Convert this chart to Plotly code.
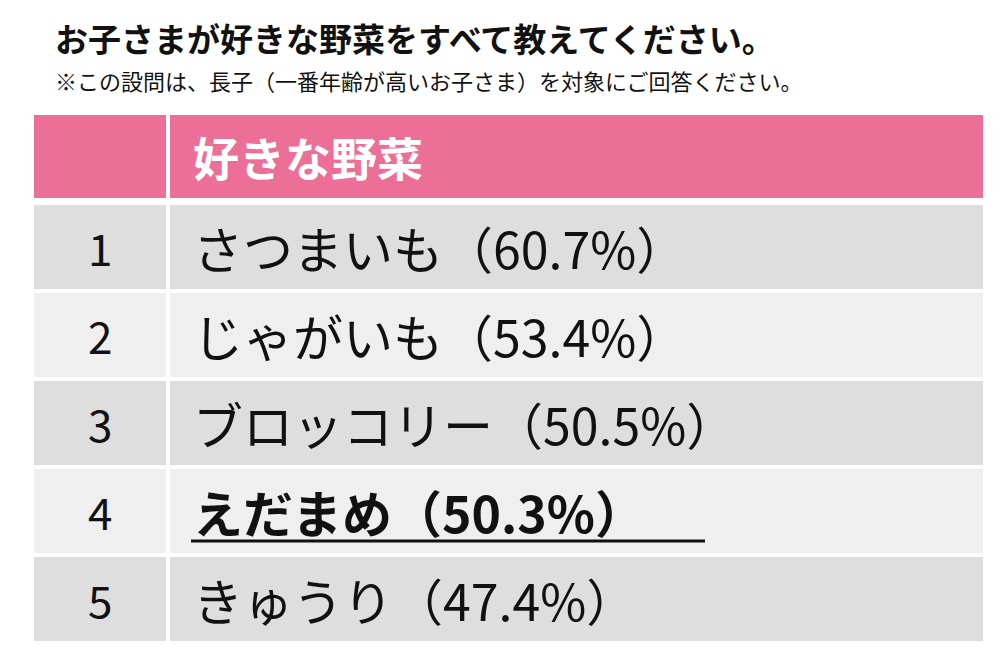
import plotly.graph_objects as go

ranks = ["1", "2", "3", "4", "5"]
veggies = ["さつまいも", "じゃがいも", "ブロッコリー", "えだまめ", "きゅうり"]
shares = [60.7, 53.4, 50.5, 50.3, 47.4]
highlight = 3  # index of bold/underlined row
header = "好きな野菜"

font = "Noto Sans CJK JP"
W, H = 1000, 667
row_colors = ["#dedede", "#efefef"]


def py(y):
    return 1 - y / H


def px(x):
    return x / W


fig = go.Figure()
shapes = []
annots = []

# header
shapes.append(dict(type="rect", x0=px(26), x1=px(158), y0=py(190), y1=py(107),
                   fillcolor="#ec6f98", line_width=0))
shapes.append(dict(type="rect", x0=px(162), x1=px(975), y0=py(190), y1=py(107),
                   fillcolor="#ec6f98", line_width=0))
annots.append(dict(text=f"<b>{header}</b>", x=px(183), y=py(148), xanchor="left",
                   font=dict(family=font, size=46, color="white")))

for i, (r, v, s) in enumerate(zip(ranks, veggies, shares)):
    top = 197 + 88 * i
    bot = top + 84
    mid = (top + bot) / 2
    col = row_colors[i % 2]
    shapes.append(dict(type="rect", x0=px(26), x1=px(158), y0=py(bot), y1=py(top),
                       fillcolor=col, line_width=0))
    shapes.append(dict(type="rect", x0=px(162), x1=px(975), y0=py(bot), y1=py(top),
                       fillcolor=col, line_width=0))
    t = f"{v}（{s:.1f}%）"
    if i == highlight:
        t = f"<b>{t}</b>"
        shapes.append(dict(type="line", x0=px(183), x1=px(697), y0=py(mid + 30),
                           y1=py(mid + 30), line=dict(color="#111111", width=3)))
    annots.append(dict(text=r, x=px(92), y=py(mid), xanchor="center",
                       font=dict(family=font, size=44, color="#111111")))
    annots.append(dict(text=t, x=px(183), y=py(mid), xanchor="left",
                       font=dict(family=font, size=50, color="#111111")))

annots.append(dict(text="<b>お子さまが好きな野菜をすべて教えてください。</b>",
                   x=px(45), y=py(30), xanchor="left",
                   font=dict(family=font, size=33, color="#111111")))
annots.append(dict(text="※この設問は、長子（一番年齢が高いお子さま）を対象にご回答ください。",
                   x=px(45), y=py(72), xanchor="left",
                   font=dict(family=font, size=22, color="#111111")))

for a in annots:
    a.update(xref="paper", yref="paper", yanchor="middle", showarrow=False)
for s in shapes:
    s.update(xref="paper", yref="paper")

fig.update_layout(width=W, height=H, margin=dict(l=0, r=0, t=0, b=0),
                  paper_bgcolor="white", plot_bgcolor="white",
                  shapes=shapes, annotations=annots,
                  xaxis=dict(visible=False), yaxis=dict(visible=False))
fig.write_html("out.html")
